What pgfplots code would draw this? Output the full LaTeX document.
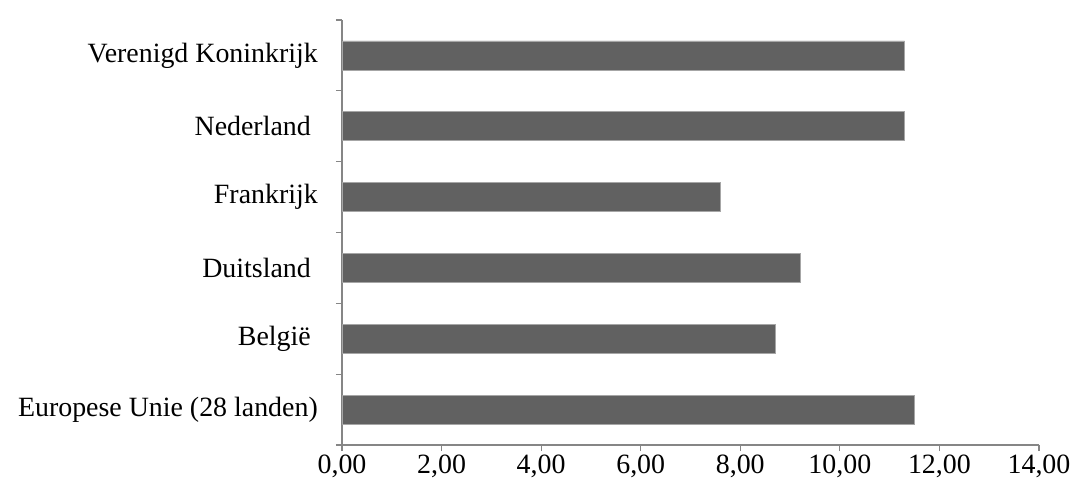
\documentclass[border=0pt]{standalone}
\usepackage{pgfplots}
\pgfplotsset{compat=1.18}
\usepackage{fontspec}
\setmainfont{Liberation Serif}
\definecolor{barfill}{HTML}{616161}
\definecolor{baredge}{HTML}{A6A6A6}
\definecolor{axisgray}{HTML}{868686}
\newcommand{\trail}{\hspace*{7bp}}
\begin{document}
\fontsize{28}{33}\selectfont
\begin{tikzpicture}
\useasboundingbox (-342bp,-47bp) rectangle (732bp,445bp);
\begin{axis}[
  scale only axis,
  width=697bp, height=425bp,
  xbar, bar width=0.41,
  xmin=0, xmax=14,
  ymin=-0.5, ymax=5.5,
  axis x line*=bottom, axis y line*=left,
  axis line style={axisgray, line width=1.2pt},
  xtick={0,2,...,14},
  ytick={-0.5,0.5,...,5.5},
  yticklabels={},
  extra y ticks={0,...,5},
  extra y tick labels={Europese Unie (28 landen),België\trail,Duitsland\trail,Frankrijk,Nederland\trail,Verenigd Koninkrijk},
  extra y tick style={major tick length=0pt, tick style={draw=none}},
  tick align=outside,
  major tick length=6bp,
  tick style={axisgray, line width=1.2pt},
  tick label style={font=\fontsize{28}{33}\selectfont, black},
  yticklabel style={inner sep=0pt, xshift=-24bp},
  xticklabel style={inner sep=0pt, yshift=-4bp},
  /pgf/number format/.cd, fixed, fixed zerofill, precision=2, use comma, assume math mode=true,
]
\addplot[fill=barfill, draw=baredge, line width=0.6pt] coordinates {
  (11.5,0) (8.7,1) (9.2,2) (7.6,3) (11.3,4) (11.3,5)
};
\end{axis}
\end{tikzpicture}
\end{document}
